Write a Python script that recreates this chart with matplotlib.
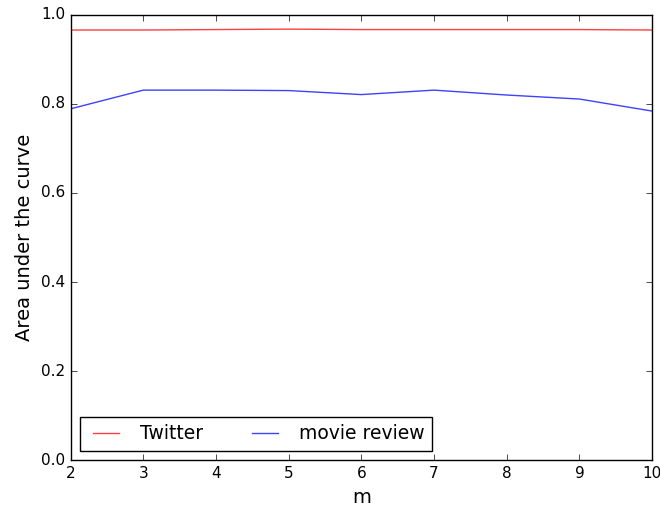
import matplotlib
matplotlib.use("Agg")
import matplotlib.pyplot as plt

m = [2, 3, 4, 5, 6, 7, 8, 9, 10]
twitter = [0.966, 0.966, 0.967, 0.968, 0.967, 0.967, 0.967, 0.967, 0.966]
movie_review = [0.789, 0.831, 0.831, 0.830, 0.821, 0.831, 0.820, 0.811, 0.784]

plt.style.use('classic')
fig, ax = plt.subplots(figsize=(6.6, 5.13), dpi=100)
fig.patch.set_facecolor('white')
ax.plot(m, twitter, color='red', alpha=0.75, label='Twitter')
ax.plot(m, movie_review, color='blue', alpha=0.75, label='movie review')
ax.set_xlim(2, 10)
ax.set_ylim(0, 1.0)
ax.set_xlabel('m', fontsize=14)
ax.set_ylabel('Area under the curve', fontsize=14)
ax.tick_params(labelsize=11)
ax.legend(loc='lower left', ncol=2, fontsize=13.5, fancybox=False, columnspacing=2.3)
plt.subplots_adjust(left=0.107, right=0.988, top=0.971, bottom=0.103)
plt.savefig('out.png', dpi=100, facecolor='white')
